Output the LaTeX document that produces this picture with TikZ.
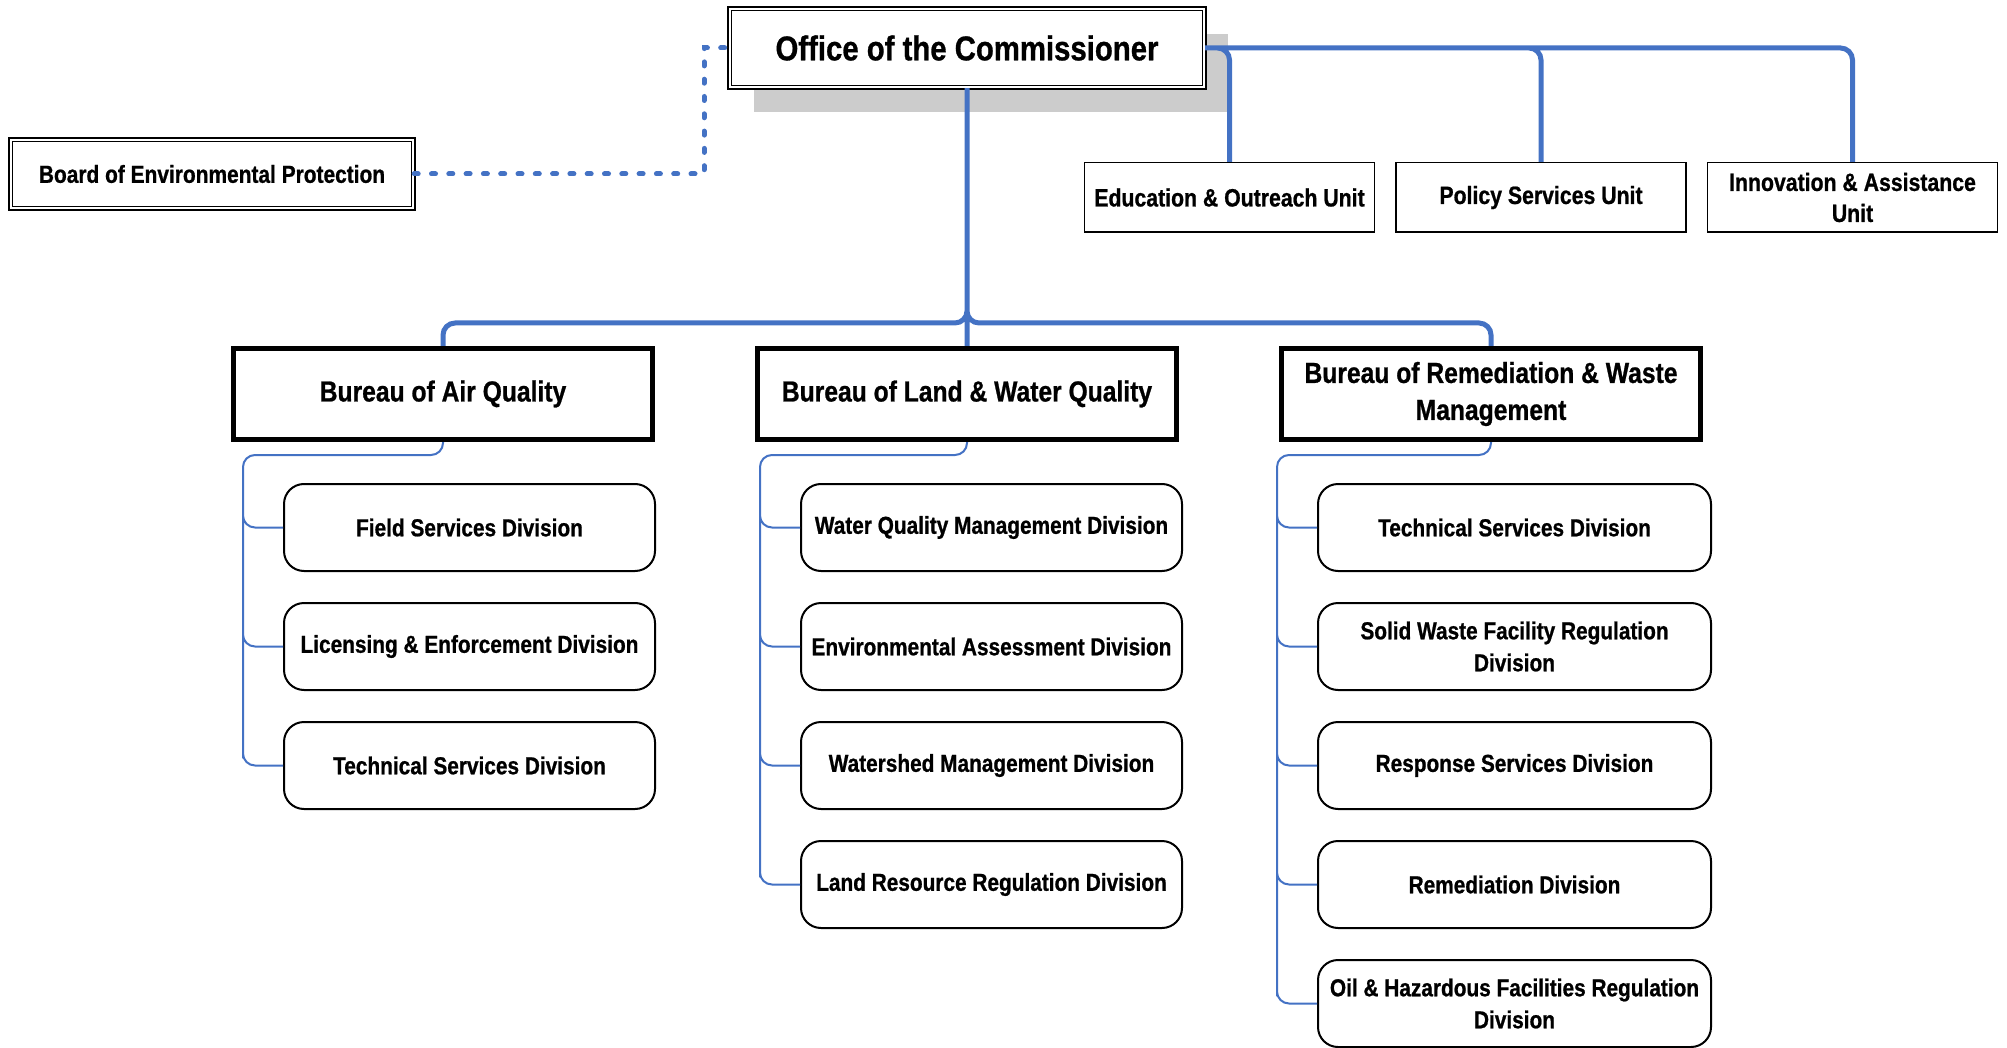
\documentclass[tikz,border=0pt]{standalone}
\usepackage{fontspec}
\setmainfont{Liberation Sans}[FakeStretch=0.85, BoldFeatures={FakeBold=0.8}]
\usetikzlibrary{positioning, shadows}
\definecolor{orgblue}{RGB}{68,114,196}
\definecolor{shadowgray}{RGB}{204,204,204}
\tikzset{
  office/.style={draw, double, line width=1.8pt, double distance=1.8pt, fill=white,
    minimum width=474.6pt, minimum height=78.6pt, align=center,
    font=\fontsize{34.5}{40}\selectfont\bfseries,
    general shadow={fill=shadowgray, shadow xshift=24pt, shadow yshift=-25pt}},
  board/.style={draw, double, line width=1.8pt, double distance=1.8pt, fill=white,
    minimum width=402.6pt, minimum height=68.6pt, align=center,
    font=\fontsize{24.6}{31}\selectfont\bfseries},
  unit/.style={draw, line width=1.5pt, minimum width=290pt, minimum height=69.5pt,
    align=center, font=\fontsize{25}{31}\selectfont\bfseries},
  bureau/.style={draw, line width=5pt, minimum width=419pt, minimum height=91pt,
    align=center, font=\fontsize{29}{37}\selectfont\bfseries},
  division/.style={draw, rounded corners=20pt, line width=2pt, minimum height=87pt,
    align=center, font=\fontsize{24.5}{32}\selectfont\bfseries},
  airdiv/.style={division, minimum width=371pt},
  landdiv/.style={division, minimum width=381pt},
  remdiv/.style={division, minimum width=393pt},
  bigline/.style={orgblue, line width=5pt, rounded corners=12pt},
  smallline/.style={orgblue, line width=2pt, rounded corners=12pt},
  dotline/.style={orgblue, line width=5pt, line cap=round, dash pattern=on 4pt off 13.3pt}
}
\begin{document}
\begin{tikzpicture}[x=1pt,y=-1pt]
\useasboundingbox (0,0) rectangle (2007,1048);
%%First place the nodes
\node[office] (ofc) at (967,48) {Office of the Commissioner};
\node[board] (bep) at (212,174) {Board of Environmental Protection};
\node[unit] (edu) at (1229.5,197.5) {Education \& Outreach Unit};
\node[unit] (pol) [right=20pt of edu] {Policy Services Unit};
\node[unit] (ina) [right=20pt of pol] {Innovation \& Assistance\\Unit};
\node[bureau] (lw) at (967,394) {Bureau of Land \& Water Quality};
\node[bureau] (air) [left=100pt of lw] {Bureau of Air Quality};
\node[bureau] (rem) [right=100pt of lw] {Bureau of Remediation \& Waste\\Management};
\node[airdiv] (air1) at (469.5,527.5) {Field Services Division};
\node[airdiv] (air2) [below=30pt of air1] {Licensing \& Enforcement Division};
\node[airdiv] (air3) [below=30pt of air2] {Technical Services Division};
\node[landdiv] (lw1) at (991.5,527.5) {Water Quality Management Division};
\node[landdiv] (lw2) [below=30pt of lw1] {Environmental Assessment Division};
\node[landdiv] (lw3) [below=30pt of lw2] {Watershed Management Division};
\node[landdiv] (lw4) [below=30pt of lw3] {Land Resource Regulation Division};
\node[remdiv] (rem1) at (1514.5,527.5) {Technical Services Division};
\node[remdiv] (rem2) [below=30pt of rem1] {Solid Waste Facility Regulation\\Division};
\node[remdiv] (rem3) [below=30pt of rem2] {Response Services Division};
\node[remdiv] (rem4) [below=30pt of rem3] {Remediation Division};
\node[remdiv] (rem5) [below=30pt of rem4] {Oil \& Hazardous Facilities Regulation\\Division};
\coordinate (hub) at (967,323);
\coordinate (bend) at (704,174);
%%Draw the dotted line to the board
\draw[dotline] (bep.east) -- (bend) |- (ofc.west);
%%Draw the thick blue lines
\draw[bigline]
(ofc.south) -- (lw.north)
(ofc.south) -- (hub) -| (air.north)
(ofc.south) -- (hub) -| (rem.north)
(ofc.east) -| (edu.north)
(ofc.east) -| (pol.north)
(ofc.east) -| (ina.north);
%%Draw the thin blue lines to the divisions
\draw[smallline]
(air.south) -- ++(0,13) -| ([xshift=-40pt]air1.west) |- (air1.west)
(air.south) -- ++(0,13) -| ([xshift=-40pt]air2.west) |- (air2.west)
(air.south) -- ++(0,13) -| ([xshift=-40pt]air3.west) |- (air3.west)
(lw.south) -- ++(0,13) -| ([xshift=-40pt]lw1.west) |- (lw1.west)
(lw.south) -- ++(0,13) -| ([xshift=-40pt]lw2.west) |- (lw2.west)
(lw.south) -- ++(0,13) -| ([xshift=-40pt]lw3.west) |- (lw3.west)
(lw.south) -- ++(0,13) -| ([xshift=-40pt]lw4.west) |- (lw4.west)
(rem.south) -- ++(0,13) -| ([xshift=-40pt]rem1.west) |- (rem1.west)
(rem.south) -- ++(0,13) -| ([xshift=-40pt]rem2.west) |- (rem2.west)
(rem.south) -- ++(0,13) -| ([xshift=-40pt]rem3.west) |- (rem3.west)
(rem.south) -- ++(0,13) -| ([xshift=-40pt]rem4.west) |- (rem4.west)
(rem.south) -- ++(0,13) -| ([xshift=-40pt]rem5.west) |- (rem5.west);
\end{tikzpicture}
\end{document}
